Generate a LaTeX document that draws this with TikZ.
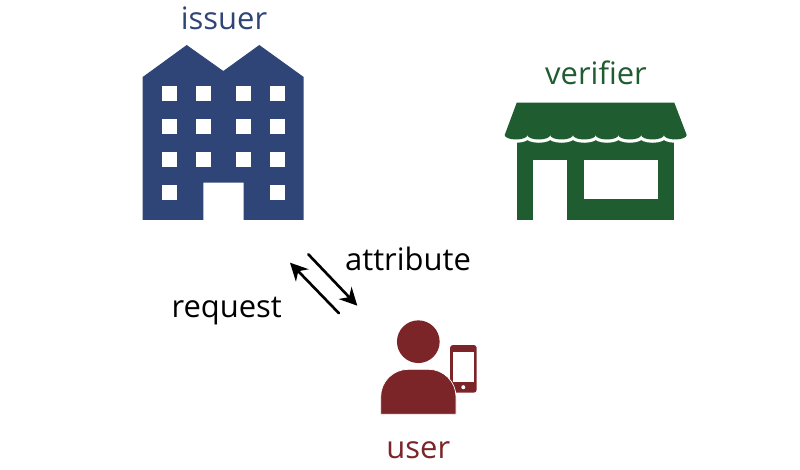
\documentclass[tikz,border=0pt]{standalone}
\usepackage{fontspec}
\setmainfont{Open Sans}
\usepackage{tkz-euclide}
\usetikzlibrary{arrows.meta}
\definecolor{issuerblue}{HTML}{2F4577}
\definecolor{verifiergreen}{HTML}{1F5C30}
\definecolor{userred}{HTML}{7B2528}
\tikzset{
    label text/.style={font=\fontsize{17.6}{20}\selectfont,anchor=base},
    flow arrow/.style={line width=1.5pt,-{Stealth[length=10pt,width=10pt]}}
}
\newcommand{\awningpath}{(10.334,7.326) -- (13.486,7.326) -- (13.734,6.68)
    \foreach \i in {1,...,8} {arc (360:180:0.2275 and 0.09)}
    -- cycle}
\begin{document}
\begin{tikzpicture}[scale=1]
            \useasboundingbox (0,0) rectangle (16,9.38);
            \tkzDefPoints{2.854/4.98/A, 2.854/7.84/B, 3.734/8.48/C, 4.466/7.96/D,
            5.186/8.48/E, 6.074/7.84/F, 6.074/4.98/G, 4.874/4.98/H, 4.874/5.726/I,
            4.066/5.726/J, 4.066/4.98/K}
            \tkzDefPoints{6.166/4.294/S, 7.146/3.266/T, 6.78/3.114/P, 5.8/4.126/R}
            % issuer
            \tkzDrawPolygon[fill=issuerblue,draw=none](A,B,C,D,E,F,G,H,I,J,K)
            \foreach \wx in {3.246,3.914,4.726,5.394}
                \foreach \wy in {7.366,6.706,6.04}
                    \fill[white] (\wx,\wy) rectangle ++(0.3,0.3);
            \foreach \wx in {3.246,5.394}
                \fill[white] (\wx,5.374) rectangle ++(0.3,0.3);
            \node[label text,text=issuerblue] (issuer) at (4.48,8.794) {issuer};
            % verifier
            \fill[verifiergreen] (10.334,4.98) rectangle (13.486,6.68);
            \fill[white] (10.666,4.98) rectangle (11.346,6.18);
            \fill[white] (11.68,5.406) rectangle (13.16,6.18);
            \draw[white,line width=0.13cm,fill=white] \awningpath;
            \fill[verifiergreen] \awningpath;
            \node[label text,text=verifiergreen] (verifier) at (11.92,7.68) {verifier};
            % user
            \fill[userred] (8.366,2.546) circle (0.427);
            \fill[userred,rounded corners=0.06cm] (9,1.526) rectangle (9.534,2.48);
            \fill[white] (9.054,1.746) rectangle (9.486,2.346);
            \fill[white] (9.266,1.636) circle (0.04);
            \filldraw[userred,draw=white,line width=0.4pt] (7.614,1.094) [rounded corners=0.55cm]
                -- (7.614,1.994) -- (9.12,1.994) [sharp corners] -- (9.12,1.094) -- cycle;
            \node[label text,text=userred] (user) at (8.366,0.22) {user};
            % arrows
            \tkzDrawSegment[flow arrow](S,T)
            \tkzDrawSegment[flow arrow](P,R)
            \node[label text] (attribute) at (8.16,3.966) {attribute};
            \node[label text] (request) at (4.534,3.034) {request};
\end{tikzpicture}
\end{document}
